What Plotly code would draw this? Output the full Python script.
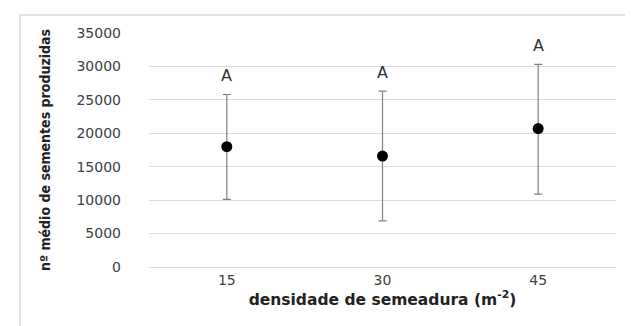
import plotly.graph_objects as go

categories = ["15", "30", "45"]
means = [18000, 16600, 20700]
upper = [25800, 26300, 30300]
lower = [10100, 6900, 10900]
letters = ["A", "A", "A"]
y_ticks = [0, 5000, 10000, 15000, 20000, 25000, 30000, 35000]

err_plus = [u - m for u, m in zip(upper, means)]
err_minus = [m - l for m, l in zip(means, lower)]

fig = go.Figure()
fig.add_trace(go.Scatter(
    x=categories, y=means, mode="markers",
    marker=dict(color="black", size=11),
    error_y=dict(type="data", symmetric=False, array=err_plus, arrayminus=err_minus,
                 color="#808080", thickness=1.2, width=4),
    showlegend=False,
))

for i, (u, t) in enumerate(zip(upper, letters)):
    fig.add_annotation(x=i, y=u, xref="x", yref="y", text=t, showarrow=False, yshift=19,
                       font=dict(family="DejaVu Sans", size=16, color="#333333"))

fig.add_shape(type="rect", xref="paper", yref="paper",
              x0=-0.2762, x1=1.0364, y0=-0.32, y1=1.0769,
              line=dict(color="#d9d9d9", width=1.5), layer="below")

fig.update_layout(
    width=633, height=326,
    margin=dict(l=141, r=25, t=25, b=67),
    plot_bgcolor="white", paper_bgcolor="white",
    xaxis=dict(type="category", range=[-0.5, 2.5], showgrid=False, showline=False,
               zeroline=False, ticks="", ticklabelstandoff=3,
               tickfont=dict(family="DejaVu Sans", size=14, color="#404040"),
               title=dict(text="densidade de semeadura (m<sup>-2</sup>)",
                          font=dict(family="DejaVu Sans", size=15.5, color="#222222", weight="bold"),
                          standoff=3)),
    yaxis=dict(range=[0, 35000], tickvals=y_ticks, tickformat="d", showgrid=True, gridcolor="#dcdcdc",
               gridwidth=1, zeroline=True, zerolinecolor="#dcdcdc", zerolinewidth=1,
               showline=False, ticks="", ticklabelstandoff=27,
               tickfont=dict(family="DejaVu Sans", size=14, color="#404040"),
               title=dict(text="nº médio de sementes produzidas",
                          font=dict(family="DejaVu Sans Condensed, Liberation Sans Narrow, sans-serif",
                                    size=14, color="#222222", weight="bold"),
                          standoff=22)),
)

fig.write_html("out.html")
